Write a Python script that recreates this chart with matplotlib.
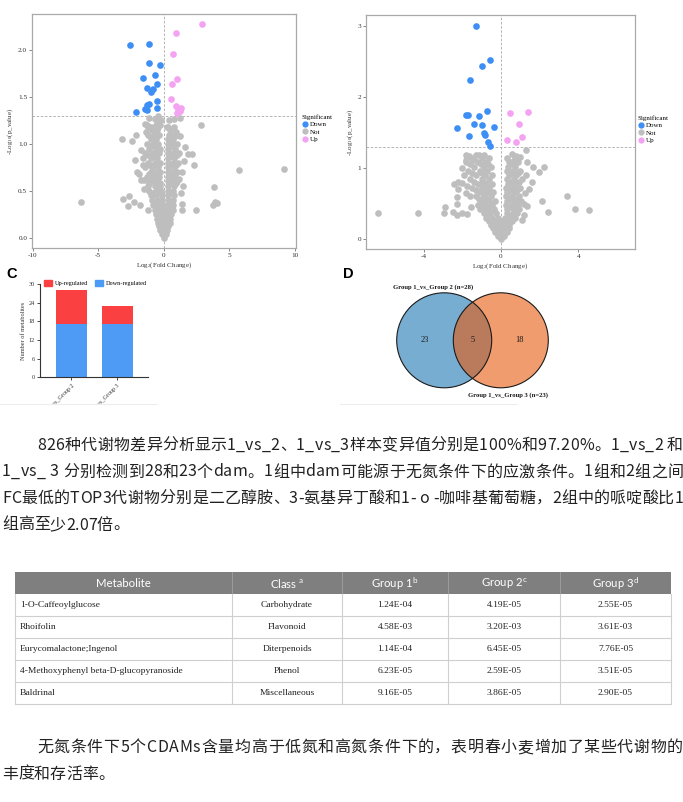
import numpy as np
import matplotlib
matplotlib.use('Agg')
import matplotlib.pyplot as plt
from matplotlib.patches import Circle, Rectangle, Patch
from matplotlib.lines import Line2D
from matplotlib.transforms import Bbox, TransformedBbox
from matplotlib import font_manager

W, H = 683, 802
SERIF = 'Liberation Serif'
CJK = ['Noto Sans CJK SC', 'DejaVu Sans']
plt.rcParams['axes.unicode_minus'] = False
plt.rcParams['mathtext.default'] = 'regular'

DOWN_C, NOT_C, UP_C = '#3D8EF5', '#BEBEBE', '#F4A2F2'
BAR_UP, BAR_DOWN = '#FA4040', '#4D9BF5'
TXT = '#222222'
P_CUT = 0.05

# ---------------- volcano A: Group 1 vs Group 2 ----------------
a_down = [(-2.59, 2.05), (-1.14, 2.07), (-1.11, 1.86), (-0.25, 1.84), (-1.55, 1.70),
          (-0.63, 1.73), (-1.24, 1.60), (-0.50, 1.64), (-0.96, 1.55), (-0.81, 1.58),
          (-0.48, 1.46), (-1.09, 1.43), (-1.27, 1.41), (-0.48, 1.38), (-1.42, 1.37),
          (-1.24, 1.36), (-2.10, 1.34)]
a_up = [(2.93, 2.28), (0.97, 2.18), (0.69, 1.96), (1.02, 1.69), (0.64, 1.64), (0.59, 1.48),
        (0.94, 1.40), (1.35, 1.38), (1.12, 1.37), (1.02, 1.33), (1.22, 1.35)]
a_not = [
    (0.0, 0.0), (-0.15, 0.04), (0.15, 0.04), (-0.25, 0.08), (0.0, 0.08), (0.25, 0.08),
    (-0.35, 0.12), (-0.05, 0.12), (0.3, 0.12), (-0.45, 0.16), (-0.1, 0.16), (0.2, 0.16), (0.45, 0.16),
    (-0.5, 0.2), (-0.15, 0.2), (0.15, 0.2), (0.5, 0.2),
    (-0.6, 0.25), (-0.2, 0.25), (0.2, 0.25), (0.55, 0.25),
    (-0.7, 0.3), (-0.3, 0.3), (0.05, 0.3), (0.4, 0.3), (0.7, 0.3),
    (-0.8, 0.35), (-0.4, 0.35), (-0.05, 0.35), (0.35, 0.35), (0.7, 0.35),
    (-0.9, 0.4), (-0.45, 0.4), (-0.1, 0.4), (0.3, 0.4), (0.75, 0.4),
    (-1.0, 0.45), (-0.55, 0.45), (-0.15, 0.45), (0.35, 0.45), (0.8, 0.45),
    (-1.1, 0.5), (-0.6, 0.5), (-0.2, 0.5), (0.3, 0.5), (0.75, 0.5),
    (-1.2, 0.55), (-0.7, 0.55), (-0.25, 0.55), (0.3, 0.55), (0.8, 0.55),
    (-0.95, 0.6), (-0.5, 0.6), (0.3, 0.6), (0.75, 0.6), (1.05, 0.6),
    (-1.3, 0.65), (-0.8, 0.65), (-0.35, 0.65), (0.35, 0.65), (0.8, 0.65),
    (-1.0, 0.7), (-0.55, 0.7), (-0.25, 0.7), (0.3, 0.7), (0.65, 0.7), (1.0, 0.7),
    (-1.45, 0.75), (-0.9, 0.75), (-0.4, 0.75), (0.35, 0.75), (0.8, 0.75),
    (-1.2, 0.8), (-0.7, 0.8), (-0.3, 0.8), (0.3, 0.8), (0.7, 0.8), (1.1, 0.8),
    (-1.0, 0.85), (-0.5, 0.85), (0.35, 0.85), (0.8, 0.85),
    (-1.4, 0.9), (-0.85, 0.9), (-0.35, 0.9), (0.3, 0.9), (0.7, 0.9), (1.2, 0.9),
    (-1.1, 0.95), (-0.6, 0.95), (-0.25, 0.95), (0.35, 0.95), (0.9, 0.95),
    (-1.3, 1.0), (-0.8, 1.0), (-0.4, 1.0), (0.3, 1.0), (0.6, 1.0), (1.0, 1.0),
    (-1.0, 1.05), (-0.55, 1.05), (0.35, 1.05), (0.75, 1.05),
    (-1.2, 1.1), (-0.7, 1.1), (-0.35, 1.1), (0.4, 1.1), (0.6, 1.1),
    (-0.9, 1.15), (-0.5, 1.15), (0.45, 1.15),
    (-1.3, 1.2), (-0.6, 1.2), (-0.3, 1.2), (-0.4, 1.25), (-0.2, 1.25),
    (-0.45, 0.28), (0.25, 0.28), (-0.65, 0.38), (-0.25, 0.38), (0.5, 0.38),
    (-0.85, 0.48), (-0.4, 0.48), (0.55, 0.48), (-1.1, 0.58), (-0.7, 0.58), (-0.3, 0.58),
    (0.5, 0.58), (0.95, 0.58), (-1.15, 0.68), (-0.65, 0.68), (0.5, 0.68), (0.9, 0.68),
    (-1.05, 0.78), (-0.55, 0.78), (0.5, 0.78), (0.95, 0.78), (-1.2, 0.88), (-0.65, 0.88),
    (0.5, 0.88), (1.0, 0.88), (-1.0, 0.98), (-0.55, 0.98), (0.45, 0.98), (0.75, 0.98),
    (-0.85, 1.08), (-0.5, 1.08), (0.5, 1.08), (0.85, 1.08), (-1.0, 1.18), (-0.45, 1.18),
    (0.35, 1.18), (-1.35, 1.13), (0.95, 1.13), (-1.55, 0.85), (-1.5, 0.62), (1.2, 0.63),
    (-6.33, 0.38), (9.15, 0.73), (5.77, 0.72), (3.84, 0.54), (3.8, 0.35), (4.1, 0.37),
    (3.9, 0.38), (2.47, 0.30), (2.82, 1.20), (2.34, 0.78), (2.2, 0.89), (1.87, 0.89),
    (1.65, 0.97), (-3.17, 1.05), (-2.08, 1.09), (-2.4, 1.03), (-2.16, 0.83), (-2.06, 0.70),
    (-3.1, 0.41), (-2.66, 0.44), (-2.74, 0.34), (-2.25, 0.38), (-1.8, 0.35), (1.38, 0.36),
    (1.43, 0.30), (-1.19, 0.29), (1.27, 1.08), (1.25, 1.28), (0.8, 1.27), (0.28, 1.18),
    (0.8, 1.18), (0.4, 1.26), (-1.45, 1.21), (-1.2, 1.18), (-0.7, 1.27), (-0.4, 1.30),
    (-1.12, 1.28), (-1.47, 0.52), (-1.7, 0.62), (-1.9, 0.68), (1.4, 0.7), (1.5, 0.55),
    (1.3, 0.48), (-1.6, 0.78), (-1.75, 0.93), (1.55, 0.82)]

# ---------------- volcano B: Group 1 vs Group 3 ----------------
b_down = [(-1.28, 3.00), (-0.59, 2.52), (-1.0, 2.43), (-1.6, 2.24), (-0.74, 1.81),
          (-1.8, 1.74), (-1.7, 1.74), (-1.14, 1.73), (-1.42, 1.62), (-1.0, 1.60),
          (-2.3, 1.57), (-0.36, 1.58), (-0.86, 1.49), (-0.83, 1.47), (-1.67, 1.45),
          (-0.66, 1.37), (-0.59, 1.31)]
b_up = [(0.46, 1.78), (1.38, 1.79), (0.93, 1.62), (1.10, 1.44), (0.33, 1.40), (0.79, 1.36)]
b_not = [
    (0.0, 0.0), (-0.15, 0.05), (0.15, 0.05), (-0.3, 0.10), (0.0, 0.10), (0.3, 0.10),
    (-0.4, 0.15), (-0.1, 0.15), (0.15, 0.15), (0.4, 0.15),
    (-0.5, 0.20), (-0.2, 0.20), (0.1, 0.20), (0.4, 0.20),
    (-0.6, 0.25), (-0.3, 0.25), (0.0, 0.25), (0.3, 0.25), (0.55, 0.25),
    (-0.75, 0.30), (-0.45, 0.30), (-0.15, 0.30), (0.2, 0.30), (0.5, 0.30), (0.75, 0.30),
    (-0.9, 0.36), (-0.55, 0.36), (-0.25, 0.36), (0.3, 0.36), (0.6, 0.36), (0.85, 0.36),
    (-1.1, 0.42), (-0.7, 0.42), (-0.35, 0.42), (0.3, 0.42), (0.65, 0.42), (0.95, 0.42),
    (-1.2, 0.48), (-0.85, 0.48), (-0.45, 0.48), (0.25, 0.48), (0.55, 0.48), (0.9, 0.48),
    (-1.0, 0.54), (-0.6, 0.54), (-0.3, 0.54), (0.3, 0.54), (0.7, 0.54), (1.05, 0.54),
    (-1.3, 0.60), (-0.9, 0.60), (-0.5, 0.60), (0.25, 0.60), (0.55, 0.60), (0.95, 0.60),
    (-1.1, 0.66), (-0.7, 0.66), (-0.4, 0.66), (0.3, 0.66), (0.7, 0.66),
    (-1.5, 0.72), (-1.0, 0.72), (-0.6, 0.72), (0.25, 0.72), (0.6, 0.72), (1.0, 0.72),
    (-1.2, 0.78), (-0.8, 0.78), (-0.45, 0.78), (0.35, 0.78), (0.75, 0.78),
    (-1.6, 0.84), (-1.0, 0.84), (-0.6, 0.84), (0.3, 0.84), (0.65, 0.84), (1.1, 0.84),
    (-1.3, 0.90), (-0.85, 0.90), (-0.45, 0.90), (0.4, 0.90), (0.8, 0.90),
    (-1.7, 0.96), (-1.1, 0.96), (-0.7, 0.96), (0.3, 0.96), (0.6, 0.96), (1.0, 0.96),
    (-1.4, 1.02), (-0.9, 1.02), (-0.5, 1.02), (0.35, 1.02), (0.75, 1.02),
    (-1.8, 1.08), (-1.2, 1.08), (-0.75, 1.08), (0.5, 1.08), (0.9, 1.08),
    (-1.5, 1.14), (-1.0, 1.14), (-0.6, 1.14), (0.3, 1.14), (0.7, 1.14),
    (-1.8, 1.18), (-1.3, 1.18), (-0.9, 1.18),
    (-0.6, 0.33), (0.35, 0.33), (-0.95, 0.45), (-0.55, 0.45), (0.45, 0.45), (0.75, 0.45),
    (-1.15, 0.57), (-0.75, 0.57), (0.45, 0.57), (0.85, 0.57), (-1.3, 0.69), (-0.85, 0.69),
    (0.45, 0.69), (0.85, 0.69), (-1.4, 0.81), (-0.95, 0.81), (0.5, 0.81), (0.95, 0.81),
    (-1.5, 0.93), (-1.0, 0.93), (0.55, 0.93), (0.9, 0.93), (-1.6, 1.05), (-1.05, 1.05),
    (-0.65, 1.05), (0.6, 1.05), (-1.4, 1.11), (0.75, 1.11), (-1.9, 0.9), (-2.0, 1.0),
    (-1.6, 0.6), (-1.75, 0.75), (-1.55, 0.45), (1.25, 0.65), (1.3, 0.9), (1.2, 0.5),
    (-6.35, 0.37), (-4.31, 0.37), (-2.97, 0.36), (-2.88, 0.45), (-2.48, 0.38), (-2.28, 0.34),
    (-1.99, 0.36), (-1.74, 0.35), (-2.42, 0.78), (-2.22, 0.81), (-2.2, 0.70), (-2.28, 0.59),
    (-2.3, 0.50), (-1.8, 0.65), (-1.99, 0.79), (3.4, 0.60), (3.81, 0.42), (4.55, 0.41),
    (2.45, 0.38), (2.12, 0.53), (2.22, 1.02), (1.96, 0.94), (1.65, 1.02), (1.29, 1.25),
    (1.34, 1.09), (1.58, 0.80), (1.43, 0.70), (1.34, 0.46), (1.17, 0.34), (1.08, 0.27),
    (-1.83, 1.12), (-1.64, 1.17), (-1.14, 1.18), (0.57, 1.20), (0.78, 1.17), (1.0, 1.15),
    (0.43, 1.09)]

# ---------------- panel C: counts of differential metabolites ----------------
bar_groups = ['Group 1_vs_Group 2', 'Group 1_vs_Group 3']
bar_down = [17, 17]
bar_up = [11, 6]

# ---------------- panel D: Venn counts ----------------
venn_only_a, venn_both, venn_only_b = 23, 5, 18
venn_names = ['Group 1_vs_Group 2', 'Group 1_vs_Group 3']

# ---------------- table ----------------
tbl_header = ['Metabolite', r'Class $^{a}$', r'Group 1$^{b}$', r'Group 2$^{c}$', r'Group 3$^{d}$']
metabolites = ['1-O-Caffeoylglucose', 'Rhoifolin', 'Eurycomalactone;Ingenol',
               '4-Methoxyphenyl beta-D-glucopyranoside', 'Baldrinal']
classes = ['Carbohydrate', 'Flavonoid', 'Diterpenoids', 'Phenol', 'Miscellaneous']
group1 = ['1.24E-04', '4.58E-03', '1.14E-04', '6.23E-05', '9.16E-05']
group2 = ['4.19E-05', '3.20E-03', '6.45E-05', '2.59E-05', '3.86E-05']
group3 = ['2.55E-05', '3.61E-03', '7.76E-05', '3.51E-05', '2.90E-05']

para1 = ['826种代谢物差异分析显示1_vs_2、1_vs_3样本变异值分别是100%和97.20%。1_vs_2 和',
         '1_vs_ 3 分别检测到28和23个dam。1组中dam可能源于无氮条件下的应激条件。1组和2组之间',
         'FC最低的TOP3代谢物分别是二乙醇胺、3-氨基异丁酸和1- o -咖啡基葡萄糖，2组中的哌啶酸比1',
         '组高至少2.07倍。']
para2 = ['无氮条件下5个CDAMs含量均高于低氮和高氮条件下的，表明春小麦增加了某些代谢物的',
         '丰度和存活率。']


def frame(l, t, r, b):
    return [l / W, 1 - b / H, (r - l) / W, (b - t) / H]


fig = plt.figure(figsize=(W / 100, H / 100), dpi=100)
canvas = fig.add_axes([0, 0, 1, 1])
canvas.set_xlim(0, W)
canvas.set_ylim(H, 0)
canvas.axis('off')


def volcano(ax, down, notsig, up, xlim, ylim, xticks, yticks, yfmt, leg_xy):
    for pts, col, z in ((notsig, NOT_C, 2), (down, DOWN_C, 3), (up, UP_C, 3)):
        x, y = np.array(pts).T
        ax.scatter(x, y, s=23, c=col, linewidths=0, zorder=z)
    ax.axvline(0, color='#A8A8A8', lw=0.6, ls=(0, (3, 2)), zorder=1)
    ax.axhline(-np.log10(P_CUT), color='#A8A8A8', lw=0.6, ls=(0, (3, 2)), zorder=1)
    ax.set_xlim(*xlim)
    ax.set_ylim(*ylim)
    ax.set_xticks(xticks)
    ax.set_xticklabels([str(t) for t in xticks])
    ax.set_yticks(yticks)
    ax.set_yticklabels([yfmt.format(t) for t in yticks])
    for s in ax.spines.values():
        s.set_color('#A9A9A9')
        s.set_linewidth(0.9)
    ax.tick_params(length=2, width=0.5, color='#555555', pad=1.5, labelsize=5.2,
                   labelcolor='#333333')
    for lbl in ax.get_xticklabels() + ax.get_yticklabels():
        lbl.set_family(SERIF)
    ax.set_xlabel(r'Log$_{2}$(Fold Change)', family=SERIF, fontsize=5, color='#333333', labelpad=1.5)
    ax.set_ylabel(r'-Log$_{10}$(p_value)', family=SERIF, fontsize=5, color='#333333', labelpad=2)
    handles = [Line2D([], [], ls='', marker='o', ms=4.5, mfc=c, mec='none')
               for c in (DOWN_C, NOT_C, UP_C)]
    ax.legend(handles, ['Down', 'Not', 'Up'], title='Significant', loc='upper left',
              bbox_to_anchor=(leg_xy[0] / W, 1 - leg_xy[1] / H), bbox_transform=fig.transFigure,
              frameon=False, prop={'family': SERIF, 'size': 5},
              title_fontproperties={'family': SERIF, 'size': 5}, handlelength=0.8,
              handletextpad=0.4, labelspacing=0.25, borderpad=0, borderaxespad=0,
              alignment='left')


ax_a = fig.add_axes(frame(32, 14, 296, 248))
volcano(ax_a, a_down, a_not, a_up, (-10.05, 10.1), (-0.11, 2.385),
        [-10, -5, 0, 5, 10], [0, 0.5, 1.0, 1.5, 2.0], '{:.1f}', (302, 114))

ax_b = fig.add_axes(frame(366, 15, 635, 249))
volcano(ax_b, b_down, b_not, b_up, (-6.98, 6.93), (-0.14, 3.155),
        [-4, 0, 4], [0, 1, 2, 3], '{:.0f}', (638, 115))

# ---------------- panel C ----------------
canvas.text(12, 274, 'C', fontsize=10.5, fontweight='bold', family='Liberation Sans',
            ha='center', va='center', color='black')
ax_c = fig.add_axes(frame(40, 284, 148, 377.3))
xpos = np.arange(len(bar_groups))
ax_c.bar(xpos, bar_down, width=0.67, color=BAR_DOWN, zorder=2)
ax_c.bar(xpos, bar_up, width=0.67, bottom=bar_down, color=BAR_UP, zorder=2)
ax_c.set_xlim(-0.685, 1.67)
ax_c.set_ylim(0, 30)
ax_c.set_yticks([0, 6, 12, 18, 24, 30])
ax_c.set_xticks(xpos)
ax_c.set_xticklabels(bar_groups, rotation=45, ha='right', va='top', rotation_mode='anchor')
for side in ('top', 'right'):
    ax_c.spines[side].set_visible(False)
for side in ('left', 'bottom'):
    ax_c.spines[side].set_color('#333333')
    ax_c.spines[side].set_linewidth(0.8)
ax_c.tick_params(length=2, width=0.5, pad=1.5, labelsize=4.5, labelcolor='#333333')
ax_c.tick_params(axis='x', labelsize=4.3, pad=2)
clip = TransformedBbox(Bbox.from_extents(0, 1 - 404 / H, 157 / W, 1), fig.transFigure)
for lbl in ax_c.get_xticklabels() + ax_c.get_yticklabels():
    lbl.set_family(SERIF)
for lbl in ax_c.get_xticklabels():
    lbl.set_clip_on(True)
    lbl.set_clip_box(clip)
ax_c.set_ylabel('Number of metabolites', family=SERIF, fontsize=4.5, color='#333333', labelpad=2)
ax_c.legend([Patch(color=BAR_UP), Patch(color=BAR_DOWN)], ['Up-regulated', 'Down-regulated'],
            loc='upper left', bbox_to_anchor=(44 / W, 1 - 280 / H), bbox_transform=fig.transFigure,
            ncol=2, frameon=False, prop={'family': SERIF, 'size': 4.5}, handlelength=1.3,
            handleheight=1.0, handletextpad=0.5, columnspacing=1.0, borderpad=0, borderaxespad=0)

# ---------------- panel D: Venn ----------------
canvas.text(348.5, 274.5, 'D', fontsize=10.5, fontweight='bold', family='Liberation Sans',
            ha='center', va='center', color='black')
VENN_CY, VENN_R = 340.3, 47.5
VENN_LX, VENN_RX = 444.2, 500.8
canvas.add_patch(Circle((VENN_LX, VENN_CY), VENN_R, fc='#1f77b4', alpha=0.6, ec='none'))
canvas.add_patch(Circle((VENN_RX, VENN_CY), VENN_R, fc='#E65A0D', alpha=0.6, ec='none'))
for cx in (VENN_LX, VENN_RX):
    canvas.add_patch(Circle((cx, VENN_CY), VENN_R, fc='none', ec='#1a1a1a', lw=0.8))
left_in, right_in = VENN_RX - VENN_R, VENN_LX + VENN_R
for xc, n in (((VENN_LX - VENN_R + left_in) / 2, venn_only_a),
              ((left_in + right_in) / 2, venn_both),
              ((right_in + VENN_RX + VENN_R) / 2, venn_only_b)):
    canvas.text(xc, VENN_CY, str(n), family=SERIF, fontsize=6, ha='center', va='center', color='#1a1a1a')
canvas.text(VENN_LX - 11.5, VENN_CY - VENN_R - 6,
            f'{venn_names[0]} (n={venn_only_a + venn_both})', family=SERIF, fontsize=4.8,
            fontweight='bold', ha='center', va='center', color='#1a1a1a')
canvas.text(VENN_RX + 7, VENN_CY + VENN_R + 7,
            f'{venn_names[1]} (n={venn_only_b + venn_both})', family=SERIF, fontsize=4.8,
            fontweight='bold', ha='center', va='center', color='#1a1a1a')

# faint panel borders
canvas.plot([0, 157], [404, 404], color='#EDEDED', lw=0.8)
canvas.plot([340, 517], [404, 404], color='#EDEDED', lw=0.8)

# ---------------- paragraphs (justified) ----------------
PARA_SIZE = 11.5
CJK_FILE = font_manager.findfont(font_manager.FontProperties(family='Noto Sans CJK SC'))


def text_line(s, y, x0, x1=None):
    font = font_manager.get_font(CJK_FILE)
    font.set_size(PARA_SIZE, 100)
    adv = []
    for ch in s:
        g = font.load_char(ord(ch))
        adv.append(g.linearHoriAdvance / 65536)
    gap = 0 if x1 is None else (x1 - x0 - sum(adv)) / (len(s) - 1)
    x = x0
    for ch, a in zip(s, adv):
        if not ch.isspace():
            canvas.text(x, y, ch, fontsize=PARA_SIZE, family=CJK, color=TXT,
                        ha='left', va='baseline')
        x += a + gap


LINE_H = 26.5
for i, line in enumerate(para1):
    x0 = 37 if i == 0 else 2
    x1 = 683 if i < len(para1) - 1 else None
    text_line(line, 450 + i * LINE_H, x0, x1)
for i, line in enumerate(para2):
    x0 = 37 if i == 0 else 2
    x1 = 683 if i < len(para2) - 1 else None
    text_line(line, 752 + i * LINE_H, x0, x1)

# ---------------- table ----------------
col_edges = [15, 232, 342, 448, 560, 671]
HEAD_T, HEAD_B, ROW_H = 571.7, 594.3, 22.0
n_rows = len(metabolites)
tbl_bottom = HEAD_B + n_rows * ROW_H
canvas.add_patch(Rectangle((col_edges[0], HEAD_T), col_edges[-1] - col_edges[0], HEAD_B - HEAD_T,
                           fc='#7F7F7F', ec='none'))
for xe in col_edges[1:-1]:
    canvas.plot([xe, xe], [HEAD_T, HEAD_B], color='#9C9C9C', lw=0.7)
for xe in col_edges:
    canvas.plot([xe, xe], [HEAD_B, tbl_bottom], color='#CFCFCF', lw=0.8)
for r in range(1, n_rows + 1):
    yy = HEAD_B + r * ROW_H
    canvas.plot([col_edges[0], col_edges[-1]], [yy, yy], color='#CFCFCF', lw=0.8)
for j, h in enumerate(tbl_header):
    xc = (col_edges[j] + col_edges[j + 1]) / 2
    canvas.text(xc, (HEAD_T + HEAD_B) / 2 + 0.5, h, family='Lato', fontsize=8.2, color='white',
                ha='center', va='center')
rows = list(zip(metabolites, classes, group1, group2, group3))
for r, row in enumerate(rows):
    yc = HEAD_B + (r + 0.5) * ROW_H
    for j, val in enumerate(row):
        if j == 0:
            canvas.text(col_edges[0] + 5, yc, val, family=SERIF, fontsize=6.8, color=TXT,
                        ha='left', va='center')
        else:
            canvas.text((col_edges[j] + col_edges[j + 1]) / 2, yc, val, family=SERIF,
                        fontsize=6.8, color=TXT, ha='center', va='center')

fig.savefig('out.png', dpi=100, facecolor='white')
